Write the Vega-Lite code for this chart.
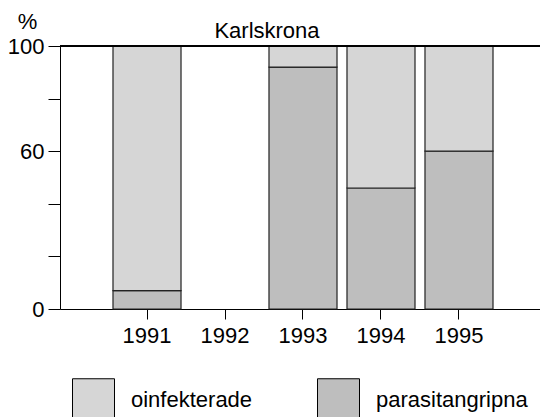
{
  "$schema": "https://vega.github.io/schema/vega-lite/v6.json",
  "autosize": {"type": "none"},
  "padding": {"left": 60, "top": 46, "right": 0, "bottom": 108},
  "width": 480,
  "height": 263,
  "background": "white",
  "title": {
    "text": "Karlskrona",
    "font": "Liberation Sans",
    "fontSize": 22,
    "fontWeight": "normal",
    "color": "black",
    "anchor": "middle",
    "frame": "group",
    "baseline": "alphabetic",
    "offset": 0,
    "dx": -33,
    "dy": 50
  },
  "data": {
    "values": [
      {"year": "1991", "status": "parasitangripna", "pct": 7},
      {"year": "1991", "status": "oinfekterade", "pct": 93},
      {"year": "1993", "status": "parasitangripna", "pct": 92},
      {"year": "1993", "status": "oinfekterade", "pct": 8},
      {"year": "1994", "status": "parasitangripna", "pct": 46},
      {"year": "1994", "status": "oinfekterade", "pct": 54},
      {"year": "1995", "status": "parasitangripna", "pct": 60},
      {"year": "1995", "status": "oinfekterade", "pct": 40}
    ]
  },
  "layer": [
    {
      "mark": {"type": "bar", "stroke": "#222222", "strokeWidth": 1.2},
      "encoding": {
        "x": {
          "field": "year",
          "type": "ordinal",
          "scale": {"domain": ["1991", "1992", "1993", "1994", "1995"], "paddingInner": 0.128, "paddingOuter": 0.641, "align": 0.53},
          "axis": {
            "title": null,
            "labelAngle": 0,
            "labelFont": "Liberation Sans",
            "labelFontSize": 22,
            "labelColor": "black",
            "labelPadding": 6,
            "tickSize": 10,
            "tickColor": "black",
            "domainColor": "black"
          }
        },
        "y": {
          "field": "pct",
          "type": "quantitative",
          "stack": "zero",
          "scale": {"domain": [0, 100], "nice": false},
          "axis": {
            "values": [0, 20, 40, 60, 80, 100],
            "labelExpr": "datum.value == 0 || datum.value == 60 || datum.value == 100 ? datum.label : ''",
            "grid": false,
            "tickSize": 12,
            "tickColor": "black",
            "domainColor": "black",
            "labelPadding": 4,
            "labelFont": "Liberation Sans",
            "labelFontSize": 22,
            "labelColor": "black",
            "title": "%",
            "titleAngle": 0,
            "titleX": -33,
            "titleY": -18,
            "titleAlign": "center",
            "titleBaseline": "alphabetic",
            "titleFont": "Liberation Sans",
            "titleFontSize": 22,
            "titleFontWeight": "normal",
            "titleColor": "black"
          }
        },
        "color": {
          "field": "status",
          "type": "nominal",
          "scale": {"domain": ["oinfekterade", "parasitangripna"], "range": ["#d6d6d6", "#bebebe"]},
          "legend": {
            "orient": "none",
            "legendX": 12,
            "legendY": 332,
            "direction": "horizontal",
            "title": null,
            "symbolType": "square",
            "symbolSize": 1764,
            "symbolStrokeColor": "black",
            "symbolStrokeWidth": 1,
            "symbolOpacity": 1,
            "labelFont": "Liberation Sans",
            "labelFontSize": 22,
            "labelColor": "black",
            "labelOffset": 16,
            "columnPadding": 62,
            "padding": 0
          }
        },
        "order": {"field": "status", "sort": "descending"}
      }
    },
    {
      "mark": {"type": "rule", "color": "black", "strokeWidth": 1},
      "encoding": {"y": {"datum": 100}}
    }
  ],
  "config": {"view": {"stroke": null}}
}
